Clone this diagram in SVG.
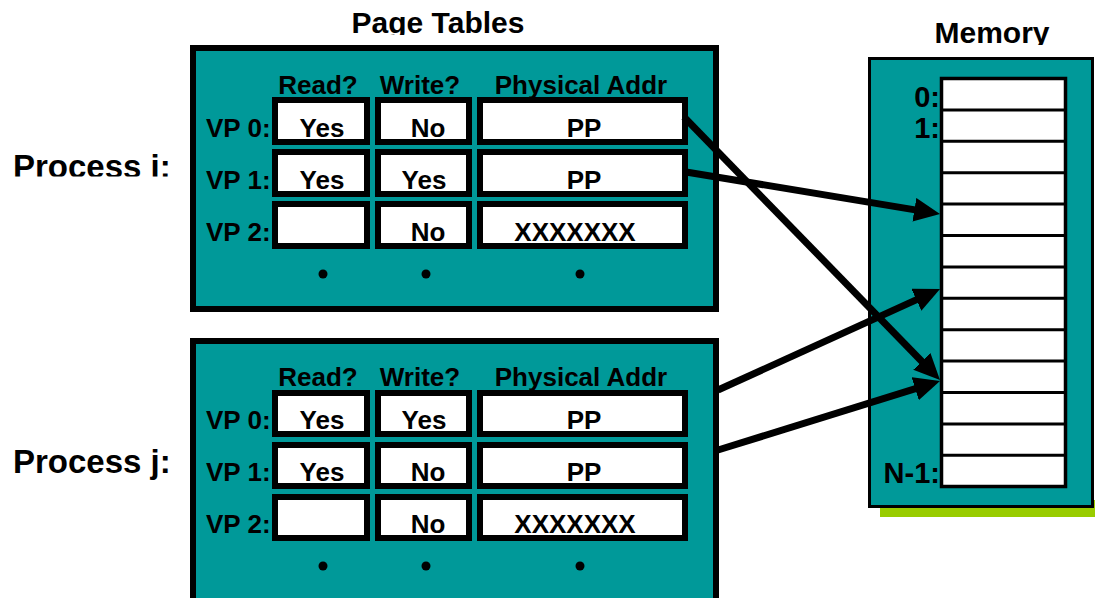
<svg xmlns="http://www.w3.org/2000/svg" width="1095" height="598" viewBox="0 0 1095 598">
<style>
text{font-family:"Liberation Sans",Arial,sans-serif;font-weight:bold;fill:#000}
.title{font-size:30px;text-anchor:middle}
.proc{font-size:33px}
.hdr{font-size:26px;text-anchor:middle}
.lbl{font-size:26px}
.val{font-size:26px;text-anchor:middle}
.mlbl{font-size:29px;text-anchor:end}
.panel{fill:#009999;stroke:#000;stroke-width:6}
.cell{fill:#fff;stroke:#000;stroke-width:6}
.dot{fill:#000}
.arrow{fill:none;stroke:#000;stroke-width:7;marker-end:url(#ah)}
</style>
<defs>
<marker id="ah" markerUnits="userSpaceOnUse" markerWidth="26" markerHeight="24" viewBox="0 0 26 24" refX="13" refY="12" orient="auto">
<path d="M0,0 L26,12 L0,24 z" fill="#000"/>
</marker>
<clipPath id="clipPT"><rect x="300" y="0" width="300" height="35"/></clipPath>
<clipPath id="clipMem"><rect x="900" y="0" width="195" height="45"/></clipPath>
<clipPath id="clipPi"><rect x="0" y="140" width="185" height="36.5"/></clipPath>
</defs>

<g id="title-page-tables"><text class="title" x="438" y="33" clip-path="url(#clipPT)">Page Tables</text></g>
<g id="title-memory"><text class="title" x="992" y="43" clip-path="url(#clipMem)">Memory</text></g>
<g id="label-process-i"><text class="proc" x="13" y="178" clip-path="url(#clipPi)">Process i:</text></g>
<g id="label-process-j"><text class="proc" x="13" y="473">Process j:</text></g>

<g id="pagetable-i">
<rect class="panel" x="193" y="48" width="523" height="261"/>
<text class="hdr" x="318" y="94">Read?</text>
<text class="hdr" x="420" y="94">Write?</text>
<text class="hdr" x="581" y="94">Physical Addr</text>
<text class="lbl" x="206" y="137">VP 0:</text>
<text class="lbl" x="206" y="189">VP 1:</text>
<text class="lbl" x="206" y="241">VP 2:</text>
<rect class="cell" x="275" y="100" width="92" height="42"/>
<rect class="cell" x="378" y="100" width="91" height="42"/>
<rect class="cell" x="480" y="100" width="205" height="42"/>
<rect class="cell" x="275" y="152" width="92" height="42"/>
<rect class="cell" x="378" y="152" width="91" height="42"/>
<rect class="cell" x="480" y="152" width="205" height="42"/>
<rect class="cell" x="275" y="204" width="92" height="42"/>
<rect class="cell" x="378" y="204" width="91" height="42"/>
<rect class="cell" x="480" y="204" width="205" height="42"/>
<text class="val" x="322" y="137">Yes</text>
<text class="val" x="428" y="137">No</text>
<text class="val" x="584" y="137">PP</text>
<text class="val" x="322" y="189">Yes</text>
<text class="val" x="424" y="189">Yes</text>
<text class="val" x="584" y="189">PP</text>
<text class="val" x="428" y="241">No</text>
<text class="val" x="575" y="241">XXXXXXX</text>
<circle class="dot" cx="323" cy="274" r="4.5"/>
<circle class="dot" cx="426" cy="274" r="4.5"/>
<circle class="dot" cx="580" cy="274" r="4.5"/>
</g>

<g id="pagetable-j">
<rect class="panel" x="193" y="341" width="523" height="270"/>
<text class="hdr" x="318" y="386">Read?</text>
<text class="hdr" x="420" y="386">Write?</text>
<text class="hdr" x="581" y="386">Physical Addr</text>
<text class="lbl" x="206" y="429">VP 0:</text>
<text class="lbl" x="206" y="481">VP 1:</text>
<text class="lbl" x="206" y="533">VP 2:</text>
<rect class="cell" x="275" y="393" width="92" height="41"/>
<rect class="cell" x="378" y="393" width="91" height="41"/>
<rect class="cell" x="480" y="393" width="205" height="41"/>
<rect class="cell" x="275" y="445" width="92" height="41"/>
<rect class="cell" x="378" y="445" width="91" height="41"/>
<rect class="cell" x="480" y="445" width="205" height="41"/>
<rect class="cell" x="275" y="497" width="92" height="41"/>
<rect class="cell" x="378" y="497" width="91" height="41"/>
<rect class="cell" x="480" y="497" width="205" height="41"/>
<text class="val" x="322" y="429">Yes</text>
<text class="val" x="424" y="429">Yes</text>
<text class="val" x="584" y="429">PP</text>
<text class="val" x="322" y="481">Yes</text>
<text class="val" x="428" y="481">No</text>
<text class="val" x="584" y="481">PP</text>
<text class="val" x="428" y="533">No</text>
<text class="val" x="575" y="533">XXXXXXX</text>
<circle class="dot" cx="323" cy="566" r="4.5"/>
<circle class="dot" cx="426" cy="566" r="4.5"/>
<circle class="dot" cx="580" cy="566" r="4.5"/>
</g>

<g id="memory">
<rect x="880" y="500" width="215" height="17" fill="#99cc00"/>
<rect x="869.5" y="58.5" width="223" height="448" fill="#009999" stroke="#000" stroke-width="3"/>
<rect x="941.5" y="78.5" width="124" height="408" fill="#fff" stroke="#000" stroke-width="3.5"/>
<path d="M941.5,109.9H1065.5M941.5,141.3H1065.5M941.5,172.7H1065.5M941.5,204.1H1065.5M941.5,235.5H1065.5M941.5,266.9H1065.5M941.5,298.3H1065.5M941.5,329.7H1065.5M941.5,361.1H1065.5M941.5,392.5H1065.5M941.5,423.9H1065.5M941.5,455.3H1065.5" stroke="#000" stroke-width="3"/>
<text class="mlbl" x="940" y="107">0:</text>
<text class="mlbl" x="940" y="138">1:</text>
<text class="mlbl" x="940" y="483">N-1:</text>
</g>

<g id="connectors">
<path class="arrow" d="M684,117 L930.9,370.7"/>
<path class="arrow" d="M686,172 L927.2,211.9"/>
<path class="arrow" d="M718,390 L928.2,294.4"/>
<path class="arrow" d="M718,450 L927.6,384.9"/>
</g>
</svg>
